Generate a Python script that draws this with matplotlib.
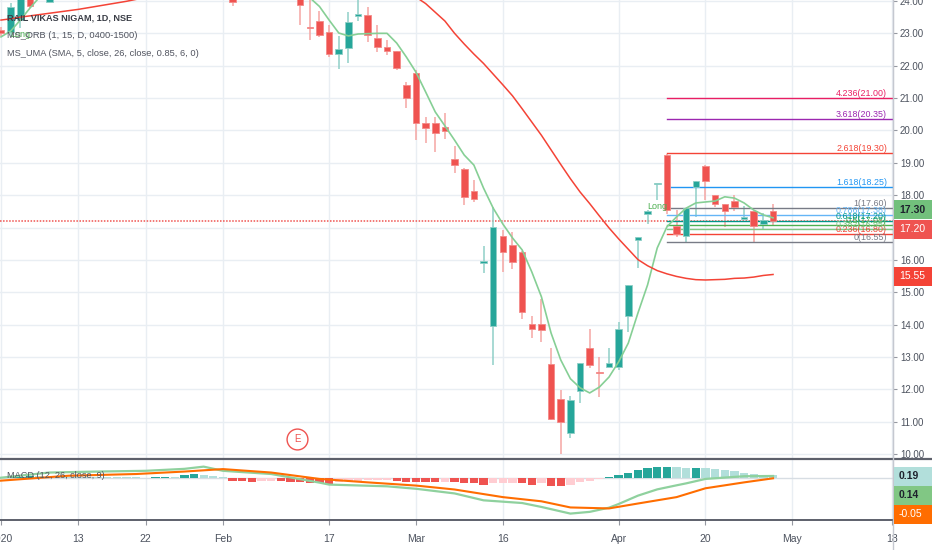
import numpy as np
import matplotlib
matplotlib.use("Agg")
import matplotlib.pyplot as plt
from matplotlib.patches import Rectangle
from matplotlib.lines import Line2D
import matplotlib.transforms as mtransforms

plt.rcParams['font.family'] = ['Liberation Sans', 'DejaVu Sans']

# ---------------- data ----------------
title_lines = ["RAIL VIKAS NIGAM, 1D, NSE",
               "MS_ORB (1, 15, D, 0400-1500)",
               "MS_UMA (SMA, 5, close, 26, close, 0.85, 6, 0)"]
macd_title = "MACD (12, 26, close, 9)"

opens = [23.10, 23.05, 23.41, 24.40, 24.20, 23.98, 24.60, 24.90, 25.20, 24.95,
         25.10, 25.40, 25.15, 25.00, 24.80, 25.05, 24.90, 25.30, 25.60, 25.40,
         26.00, 26.30, 25.95, 25.60, 24.60, 24.20, 24.60, 24.75, 24.50, 24.70,
         24.40, 24.25, 23.19, 23.39, 23.05, 22.35, 22.54, 23.55, 23.57, 22.86,
         22.57, 22.46, 21.40, 21.78, 20.24, 20.24, 20.11, 19.11, 18.82, 18.13,
         15.92, 13.97, 16.74, 16.46, 16.25, 14.01, 14.01, 12.78, 11.70, 10.66,
         11.96, 13.28, 12.51, 12.70, 12.70, 14.28, 16.61, 17.41, 18.33, 19.24,
         17.06, 16.75, 18.24, 18.91, 18.00, 17.72, 17.82, 17.25, 17.52, 17.11,
         17.51]
highs = [23.19, 23.94, 24.50, 24.60, 24.90, 24.90, 25.10, 25.40, 25.50, 25.30,
         25.60, 25.70, 25.50, 25.30, 25.20, 25.40, 25.50, 25.80, 26.00, 26.20,
         26.50, 26.60, 26.20, 25.90, 24.90, 24.80, 25.00, 25.10, 24.90, 25.00,
         24.70, 24.40, 24.10, 23.69, 23.26, 22.92, 23.67, 24.05, 23.80, 23.26,
         22.79, 22.46, 21.50, 21.87, 20.42, 20.41, 20.53, 19.52, 18.84, 18.47,
         16.44, 17.64, 16.92, 16.85, 16.28, 14.27, 14.79, 13.27, 11.98, 11.79,
         12.81, 13.87, 12.99, 13.27, 14.07, 15.22, 16.72, 17.54, 18.36, 19.28,
         17.54, 17.60, 18.45, 18.93, 18.00, 17.72, 18.00, 17.66, 17.52, 17.44,
         17.73]
lows = [22.92, 22.89, 23.16, 23.78, 24.10, 23.98, 24.40, 24.70, 24.80, 24.60,
        24.90, 25.00, 24.80, 24.60, 24.50, 24.80, 24.70, 25.10, 25.20, 25.30,
        25.70, 25.80, 25.40, 24.60, 23.84, 24.15, 24.30, 24.40, 24.20, 24.30,
        24.10, 23.26, 22.79, 22.89, 22.26, 21.89, 22.09, 23.39, 22.74, 22.43,
        22.33, 21.87, 20.68, 19.70, 19.60, 19.33, 19.73, 18.69, 17.70, 17.80,
        15.60, 12.75, 15.63, 15.71, 14.17, 13.58, 13.47, 11.05, 10.00, 10.51,
        11.57, 12.65, 11.75, 12.70, 12.60, 13.78, 15.74, 17.11, 17.85, 17.42,
        16.72, 16.55, 17.33, 17.85, 17.64, 17.03, 17.52, 17.25, 16.56, 16.92,
        17.06]
closes = [23.01, 23.82, 24.30, 23.84, 24.70, 24.60, 24.90, 25.20, 24.95, 25.10,
          25.40, 25.15, 25.00, 24.80, 25.05, 24.90, 25.30, 25.60, 25.40, 26.00,
          26.30, 25.95, 25.60, 24.80, 23.98, 24.60, 24.75, 24.50, 24.70, 24.40,
          24.30, 23.87, 23.17, 22.95, 22.35, 22.51, 23.36, 23.57, 22.95, 22.59,
          22.45, 21.94, 20.99, 20.22, 20.09, 19.93, 19.99, 18.93, 17.93, 17.88,
          15.93, 17.03, 16.23, 15.94, 14.38, 13.86, 13.84, 11.08, 10.98, 11.67,
          12.81, 12.76, 12.50, 12.81, 13.86, 15.22, 16.72, 17.51, 18.35, 17.54,
          16.80, 17.59, 18.45, 18.45, 17.73, 17.52, 17.62, 17.32, 17.05, 17.23,
          17.20]

sma_fast = [22.89, 23.07, 23.41, 23.78, 24.12, 24.30, 24.40, 24.60, 24.80, 25.00,
            25.10, 25.15, 25.10, 25.10, 25.00, 24.95, 25.00, 25.10, 25.20, 25.50,
            25.70, 25.85, 25.90, 25.70, 25.30, 25.00, 24.70, 24.50, 24.55, 24.60,
            24.50, 24.35, 24.10, 23.83, 23.41, 23.01, 22.92, 22.98, 22.99, 23.00,
            23.00, 22.70, 22.27, 21.80, 21.19, 20.57, 20.14, 19.70, 19.24, 18.93,
            18.22, 17.60, 17.11, 16.68, 16.31, 15.63, 14.86, 13.74, 12.91, 12.33,
            12.05, 11.89, 12.07, 12.38, 12.85, 13.43, 14.36, 15.23, 16.37, 17.02,
            17.33, 17.60, 17.76, 17.79, 17.82, 17.95, 17.91, 17.76, 17.54, 17.39,
            17.30]
sma_slow = [23.41, 23.45, 23.50, 23.54, 23.58, 23.62, 23.66, 23.70, 23.74, 23.79,
            23.84, 23.89, 23.94, 23.99, 24.05, 24.10, 24.20, 24.30, 24.40, 24.50,
            24.60, 24.70, 24.80, 24.90, 24.95, 25.00, 25.00, 25.00, 24.95, 24.90,
            24.85, 24.80, 24.75, 24.70, 24.60, 24.55, 24.50, 24.45, 24.40, 24.35,
            24.30, 24.25, 24.20, 24.12, 23.92, 23.65, 23.38, 23.00, 22.67, 22.36,
            22.07, 21.74, 21.41, 21.07, 20.67, 20.26, 19.85, 19.40, 18.95, 18.51,
            18.10, 17.74, 17.36, 16.99, 16.65, 16.33, 16.01, 15.82, 15.67, 15.57,
            15.49, 15.43, 15.39, 15.38, 15.39, 15.40, 15.43, 15.44, 15.47, 15.52,
            15.55]

macd_hist = [0.03, 0.05, 0.08, 0.10, 0.10, 0.09, 0.08, 0.07, 0.06, 0.06,
             0.05, 0.04, 0.03, 0.03, 0.02, -0.04, 0.07, 0.08, 0.06, 0.20,
             0.30, 0.25, 0.15, 0.02, -0.26, -0.30, -0.32, -0.27, -0.25, -0.30,
             -0.32, -0.36, -0.42, -0.46, -0.52, -0.32, -0.27, -0.25, -0.22, -0.20,
             -0.16, -0.30, -0.31, -0.32, -0.32, -0.33, -0.32, -0.35, -0.45, -0.46,
             -0.56, -0.46, -0.45, -0.44, -0.47, -0.56, -0.45, -0.66, -0.67, -0.56,
             -0.35, -0.24, -0.13, 0.04, 0.21, 0.40, 0.64, 0.80, 0.90, 0.91,
             0.88, 0.80, 0.81, 0.77, 0.69, 0.61, 0.53, 0.37, 0.29, 0.24,
             0.19]
macd_idx = [0, 5, 10, 15, 19, 21, 23, 28, 33, 34, 40, 43, 47, 50, 54, 56, 59, 61,
            63, 64, 65, 66, 68, 70, 71, 73, 77, 80]
macd_val = [0.00, 0.42, 0.50, 0.56, 0.72, 0.90, 0.56, 0.30, -0.40, -0.56, -0.70,
            -0.90, -1.28, -1.84, -2.06, -2.38, -2.92, -2.78, -2.44, -2.14, -1.80,
            -1.46, -0.95, -0.62, -0.46, -0.10, 0.12, 0.14]
signal_idx = [0, 7, 14, 19, 23, 28, 33, 38, 43, 47, 52, 56, 59, 63, 66, 70, 73, 77, 80]
signal_val = [-0.24, 0.16, 0.30, 0.50, 0.70, 0.42, -0.10, -0.38, -0.64, -0.96,
              -1.58, -1.92, -2.42, -2.50, -2.10, -1.58, -0.86, -0.38, -0.05]

fib_ratios = [0, 0.236, 0.382, 0.5, 0.618, 0.786, 1, 1.618, 2.618, 3.618, 4.236]
fib_prices = [16.55, 16.80, 16.95, 17.08, 17.20, 17.38, 17.60, 18.25, 19.30, 20.35, 21.00]
fib_start_idx = 69

long_signal_idx = [2, 68]
earnings_idx = 31

tick_pos = [0, 8, 15, 23, 34, 43, 52, 64, 73, 82, 92.3]
tick_labels = ['2020', '13', '22', 'Feb', '17', 'Mar', '16', 'Apr', '20', 'May', '18']
price_ticks = list(range(10, 25))

# ---------------- style ----------------
UP, DOWN = '#26a69a', '#ef5350'
UP_W, DOWN_W = '#8fcfc7', '#f5a5a3'
GRID = '#e9eef3'
TXT = '#50535e'
fib_colors = ['#787b86', '#f44336', '#81c784', '#4caf50', '#009688', '#64b5f6',
              '#787b86', '#2196f3', '#f44336', '#9c27b0', '#e91e63']

W, H = 932, 550
fig = plt.figure(figsize=(W / 100, H / 100), dpi=100)
fig.patch.set_facecolor('white')

def fx(px):
    return px / W

def fy(py):
    return 1 - py / H

AX_R = 893
ax = fig.add_axes([0, fy(458), fx(AX_R), 458 / H])
axm = fig.add_axes([0, fy(519), fx(AX_R), (519 - 460) / H], sharex=ax)

n = len(closes)
x = np.arange(n)
ax.set_xlim(-0.104, 92.43)
ax.set_ylim(9.88, 24.03)
axm.set_ylim(-3.36, 1.44)

for a in (ax, axm):
    a.set_facecolor('white')
    for s in ('top', 'left', 'bottom'):
        a.spines[s].set_visible(False)
    a.spines['right'].set_color('#c5c8d0')
    a.set_axisbelow(True)

# grid / ticks
ax.set_yticks(price_ticks)
ax.set_yticklabels([f"{v:.2f}" for v in price_ticks])
ax.yaxis.tick_right()
ax.tick_params(axis='y', labelsize=7, colors='#9598a1', labelcolor='#4c525e',
               length=3, pad=2, width=0.8)
ax.set_xticks(tick_pos)
ax.tick_params(axis='x', length=0, labelbottom=False)
ax.grid(True, color=GRID, lw=1)

axm.set_xticks(tick_pos)
axm.set_xticklabels(tick_labels)
axm.tick_params(axis='x', labelsize=7.5, colors='#9598a1', labelcolor='#4c525e',
                length=4, pad=7, width=0.8)
axm.set_yticks([])
axm.grid(True, axis='x', color=GRID, lw=1)
axm.set_xlim(-0.104, 92.43)

# candles
for i in range(n):
    o, h, l, c = opens[i], highs[i], lows[i], closes[i]
    up = c >= o
    ax.vlines(i, l, h, color=UP_W if up else DOWN_W, lw=1.1, zorder=3)
    bot = min(o, c)
    hgt = max(abs(c - o), 0.04)
    ax.add_patch(Rectangle((i - 0.34, bot), 0.68, hgt,
                           facecolor=UP if up else DOWN,
                           edgecolor=UP_W if up else '#f48a88', lw=0.6, zorder=4))

# moving averages
ax.plot(x, sma_fast, color='#86cf95', lw=1.2, zorder=5)
ax.plot(x, sma_slow, color='#f44336', lw=1.1, zorder=5)

# last price line
ax.axhline(closes[-1], color='#ef5350', lw=1.1, ls=(0, (1, 1)), zorder=2)

# fib levels
xr = ax.get_xlim()[1]
lab_tr = mtransforms.blended_transform_factory(ax.transAxes, ax.transData)
for r, p, col in zip(fib_ratios, fib_prices, fib_colors):
    ax.plot([fib_start_idx, xr], [p, p], color=col, lw=1.0, zorder=3)
    ax.text(887 / AX_R, p, f"{r:g}({p:.2f})", transform=lab_tr, ha='right', va='bottom',
            fontsize=6.4, color=col, zorder=6)

# "Long" labels
for li in long_signal_idx:
    ax.annotate("Long", xy=(li, lows[li]), xytext=(0, -1.5), textcoords='offset points',
                ha='center', va='top', fontsize=6.5, color='#4caf50', zorder=6)

# earnings marker
e_tr = mtransforms.blended_transform_factory(ax.transData, ax.transAxes)
ax.plot([earnings_idx - 0.3], [0.042], transform=e_tr, marker='o', ms=15, mfc='white',
        mec='#ef5350', mew=1.0, zorder=7, clip_on=False)
ax.text(earnings_idx - 0.3, 0.042, 'E', transform=e_tr, ha='center', va='center',
        fontsize=7, color='#ef5350', zorder=8)

# legend texts
fig.text(fx(7), fy(18), title_lines[0], ha='left', va='center', fontsize=6.6,
         fontweight='bold', color='#3a3d46')
fig.text(fx(7), fy(36), title_lines[1], ha='left', va='center', fontsize=6.7, color=TXT)
fig.text(fx(7), fy(54), title_lines[2], ha='left', va='center', fontsize=6.7, color=TXT)

# MACD pane
hist_cols = []
for i, hv in enumerate(macd_hist):
    prev = macd_hist[i - 1] if i > 0 else 0.0
    if hv >= 0:
        hist_cols.append('#26a69a' if hv > prev else '#b2dfdb')
    else:
        hist_cols.append('#ffcdd2' if hv > prev else '#ef5350')
axm.axhline(0, color='#d7dde3', lw=1, zorder=1)
axm.bar(x, macd_hist, width=0.86, color=hist_cols, zorder=2)
axm.plot(macd_idx, macd_val, color='#8fd19e', lw=1.6, zorder=3)
axm.plot(signal_idx, signal_val, color='#ff6d00', lw=1.5, zorder=4)
fig.text(fx(7), fy(476), macd_title, ha='left', va='center', fontsize=6.6, color=TXT)

# separators / axis lines
fig.add_artist(Line2D([0, 1], [fy(459), fy(459)], transform=fig.transFigure,
                      color='#5d606b', lw=1.6))
fig.add_artist(Line2D([0, 1], [fy(519.5), fy(519.5)], transform=fig.transFigure,
                      color='#5d606b', lw=1.4))
fig.add_artist(Line2D([fx(AX_R), fx(AX_R)], [0, 1], transform=fig.transFigure,
                      color='#c5c8d0', lw=1.0))

# value badges
def badge(a, value, text, bg, fg, dy=0.0, h=19):
    _, yp = a.transData.transform((0, value))
    yp += dy
    fig.add_artist(Rectangle((fx(AX_R + 1), (yp - h / 2) / H), fx(38), h / H,
                             transform=fig.transFigure, facecolor=bg, edgecolor='none',
                             zorder=10))
    fig.text(fx(AX_R + 6), yp / H, text, ha='left', va='center', fontsize=7.5,
             color=fg, zorder=11, fontweight='bold' if fg != 'white' else 'normal')

badge(ax, sma_fast[-1], f"{sma_fast[-1]:.2f}", '#72c07c', '#1e222d', dy=8)
badge(ax, closes[-1], f"{closes[-1]:.2f}", '#ef5350', 'white', dy=-8)
badge(ax, sma_slow[-1], f"{sma_slow[-1]:.2f}", '#f44336', 'white', dy=-2)

hy_val = macd_hist[-1]
badge(axm, hy_val, f"{macd_hist[-1]:.2f}", '#b2dfdb', '#1e222d', dy=-1)
badge(axm, hy_val, f"{macd_val[-1]:.2f}", '#81c784', '#1e222d', dy=-20)
badge(axm, hy_val, f"{signal_val[-1]:.2f}", '#ff6d00', 'white', dy=-39)

fig.savefig('out.png', dpi=100, facecolor='white')
